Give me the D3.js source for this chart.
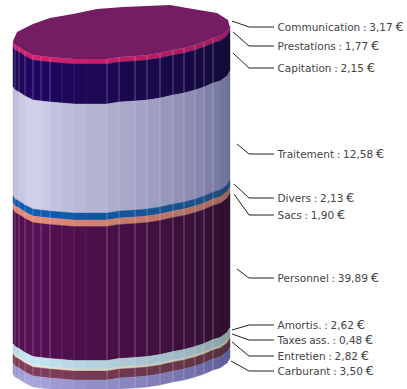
<!DOCTYPE html>
<html><head><meta charset="utf-8">
<style>html,body{margin:0;padding:0;background:#fff}svg{display:block}</style>
<script src="https://cdn.jsdelivr.net/npm/d3@7"></script></head>
<body><svg id="chart" width="407" height="389"></svg>
<script>
// Cost breakdown per category, in euros, drawn as a stacked faceted cylinder.
const categories = ["Communication","Prestations","Capitation","Traitement","Divers","Sacs","Personnel","Amortis.","Taxes ass.","Entretien","Carburant"];
const amounts = ["3,17","1,77","2,15","12,58","2,13","1,90","39,89","2,62","0,48","2,82","3,50"];
// Visual thickness of each ring on the cylinder wall; Communication is the lid.
const ringDepth = [0,5,40,109,7,6.5,134,8.5,2,9,11];
const litColours = ["#741d63","#d81e6e","#200660","#d0cee9","#0b5cb4","#e88c7a","#561054","#c6e6f6","#ebe7cc","#843c5c","#a8a4da"];
const shadeColours = ["#741d63","#981a5c","#120c36","#6c6e98","#1e4a74","#98625a","#2e102c","#869ea2","#b0ac98","#54303a","#5a5a98"];

// Wall facets: edge positions across the width, the front rim curve at each edge,
// the light received by each facet and how strongly each seam shows.
const facetEdge = [0,2,6,12,20,28,37,49,61,73,94,106,122,134,147,160,171,182,191,200,207,214,217];
const rimCurve = [7,10,12,16,20,21,22,23,24,24,24,22,21,20,18,15,13,10,7,3,1,-4,-9];
const facetLight = [.78,.85,.93,1,1,.95,.88,.82,.77,.72,.66,.6,.55,.5,.44,.38,.33,.27,.2,.14,.07,.02];
const seamOpacity = [0,.3,.3,.32,.32,.32,.36,.14,.12,.08,.36,.36,.36,.36,.36,.36,.36,.36,.36,.36,0,0];
// Outline of the far side of the lid, running from the left end to the right end.
const lidBackX = [0,4,20,37,60,84,110,134,157,174,204,215,217];
const lidBackY = [1,-8,-16,-22,-26,-31,-33,-34,-35,-32,-27,-20,-12];

// Leader lines: attachment on the wall, then the label row they run along.
const leaderStartX = [232,233,233,237,234,234,237,232,232,232,231];
const leaderStartY = [21,32,53,144,184,194,269,330,334,342,361];
const labelRow = [27,46,68,154,198,215,278,325,340,356,371];

const svg = d3.select("#chart");
const x = d3.scaleLinear().domain([0,217]).range([13,230]);
const y = d3.scaleLinear().domain([0,349]).range([40,389]);
const path = d3.line().x(d => x(d[0])).y(d => y(d[1]));

// Running depth of each ring's upper and lower edge below the rim.
const offsets = d3.cumsum(ringDepth);
const rim = i => rimCurve[i] - ringDepth[1];

const wall = svg.append("g");
for (let b = 1; b < categories.length; b++) {
  const mix = d3.interpolateRgb(shadeColours[b], litColours[b]);
  const top = offsets[b-1], bottom = offsets[b];
  facetLight.forEach((light, j) => {
    const colour = mix(light);
    wall.append("path")
      .attr("d", path([
        [facetEdge[j], rim(j)+top],[facetEdge[j+1], rim(j+1)+top],
        [facetEdge[j+1], rim(j+1)+bottom],[facetEdge[j], rim(j)+bottom]
      ]) + "Z")
      .attr("fill", colour).attr("stroke", colour).attr("stroke-width", .4);
  });
}

// Seams between facets.
const seams = svg.append("g");
facetEdge.forEach((e, j) => {
  if (!seamOpacity[j]) return;
  seams.append("line")
    .attr("x1", x(e)).attr("x2", x(e))
    .attr("y1", y(rim(j))).attr("y2", y(rim(j)+offsets[offsets.length-1]))
    .attr("stroke", "#d8d4e8").attr("stroke-width", 1).attr("stroke-opacity", seamOpacity[j]);
});

// Lid: the front rim closed by the far-side outline.
const lidFront = facetEdge.map((e, j) => [e, rim(j)]);
const lidBack = lidBackX.map((e, j) => [e, lidBackY[j]]).reverse();
svg.append("path").attr("d", path(lidFront.concat(lidBack)) + "Z").attr("fill", litColours[0]);

// Leaders and labels.
const labels = svg.append("g");
categories.forEach((name, i) => {
  labels.append("path")
    .attr("d", d3.line()([[leaderStartX[i],leaderStartY[i]],[249,labelRow[i]],[274,labelRow[i]]]))
    .attr("fill","none").attr("stroke","#222").attr("stroke-width",1);
  const label = labels.append("text")
    .attr("x",277.5).attr("y",labelRow[i]+4)
    .attr("font-family","'DejaVu Sans'").attr("font-size",10.5).attr("word-spacing",-.6).attr("fill","#444")
    .text(`${name} : ${amounts[i]} `);
  label.append("tspan").attr("font-size",13).text("€");
});
</script></body></html>
